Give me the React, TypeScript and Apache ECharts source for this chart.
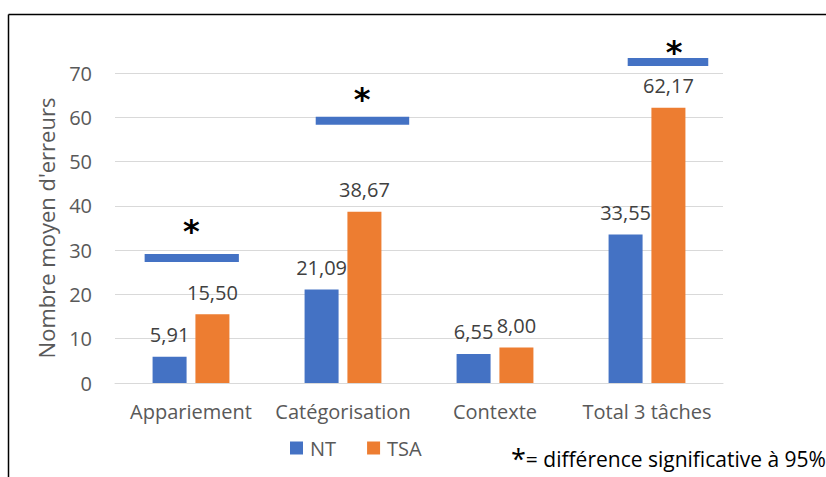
import React, { useEffect, useRef } from "react";
import * as echarts from "echarts";

const categories = ["Appariement", "Catégorisation", "Contexte", "Total 3 tâches"];
const ntValues = [5.91, 21.09, 6.55, 33.55];
const tsaValues = [15.5, 38.67, 8.0, 62.17];
// significance marks (hand-placed in the original): category index, bar level, star level
const sigCats = [0, 1, 3];
const sigLevels = [28.2, 59.2, 72.5];
const sigShift = [0.005, 0.128, 0.138]; // fraction of category band
const sigWidth = [0.62, 0.615, 0.53]; // fraction of category band
const starLevels = [35.3, 65.0, 75.6];
const starShift = [0.003, 0.125, 0.178];
const yTicks = { min: 0, max: 70, interval: 10 };

const FONT = "Open Sans";
const GRAY = "#595959";

const fmt = (v: number) => v.toFixed(2).replace(".", ",");

export default function App() {
  const ref = useRef<HTMLDivElement>(null);
  useEffect(() => {
    if (!ref.current) return;
    const chart = echarts.init(ref.current, null, { renderer: "svg" });
    const sigData = sigCats.map((c, i) => [c, sigLevels[i], sigShift[i], sigWidth[i], starLevels[i], starShift[i]]);
    const labelCfg = {
      show: true,
      position: "top",
      distance: 12,
      color: "#404040",
      fontSize: 20,
      fontFamily: FONT,
      formatter: (p: any) => fmt(p.value),
    };
    chart.setOption({
      animation: false,
      textStyle: { fontFamily: FONT },
      grid: { left: 115, right: 103, top: 73, bottom: 94 },
      legend: {
        top: 433,
        left: 285,
        itemWidth: 13,
        itemHeight: 13,
        itemGap: 31,
        icon: "rect",
        textStyle: { color: GRAY, fontSize: 20, fontFamily: FONT, padding: [0, 0, 0, 2] },
        data: ["NT", "TSA"],
      },
      xAxis: {
        type: "category",
        data: categories,
        axisTick: { show: false },
        axisLine: { lineStyle: { color: "#D9D9D9", width: 1 } },
        axisLabel: { color: GRAY, fontSize: 20, margin: 18, fontFamily: FONT, interval: 0, hideOverlap: false },
      },
      yAxis: {
        type: "value",
        min: yTicks.min,
        max: yTicks.max,
        interval: yTicks.interval,
        name: "Nombre moyen d'erreurs",
        nameLocation: "middle",
        nameGap: 58,
        nameTextStyle: { color: GRAY, fontSize: 22, fontFamily: FONT },
        axisLine: { show: false },
        axisTick: { show: false },
        axisLabel: { color: GRAY, fontSize: 20, margin: 23, fontFamily: FONT },
        splitLine: { lineStyle: { color: "#D9D9D9", width: 1 } },
      },
      series: [
        {
          name: "NT",
          type: "bar",
          data: ntValues,
          barWidth: 34,
          barGap: "26%",
          itemStyle: { color: "#4472C4" },
          label: labelCfg,
        },
        {
          name: "TSA",
          type: "bar",
          data: tsaValues,
          barWidth: 34,
          itemStyle: { color: "#ED7D31" },
          label: labelCfg,
        },
        {
          name: "sig",
          type: "custom",
          data: sigData,
          z: 10,
          renderItem: (params: any, api: any) => {
            const band = api.size([1, 0])[0];
            const bar = api.coord([api.value(0), api.value(1)]);
            const star = api.coord([api.value(0), api.value(4)]);
            const cx = bar[0] + api.value(2) * band;
            const w = api.value(3) * band;
            const sx = star[0] + api.value(5) * band;
            return {
              type: "group",
              children: [
                {
                  type: "rect",
                  shape: { x: cx - w / 2, y: bar[1] - 4, width: w, height: 8 },
                  style: { fill: "#4472C4" },
                },
                {
                  type: "text",
                  style: {
                    text: "*",
                    x: sx,
                    y: star[1] + 20,
                    align: "center",
                    verticalAlign: "bottom",
                    fill: "#000",
                    fontSize: 32,
                    fontWeight: "bold",
                    fontFamily: "DejaVu Sans",
                  },
                },
              ],
            };
          },
        },
      ],
      graphic: [
        {
          type: "line",
          shape: { x1: 8.5, y1: 14.5, x2: 826, y2: 14.5 },
          style: { stroke: "#000", lineWidth: 1.5 },
        },
        {
          type: "line",
          shape: { x1: 8.5, y1: 14.5, x2: 8.5, y2: 477 },
          style: { stroke: "#000", lineWidth: 1.5 },
        },
        {
          type: "text",
          left: 511,
          top: 445,
          style: {
            text: "{a|*}{b|= différence significative à 95%}",
            fill: "#000",
            fontFamily: FONT,
            rich: {
              a: { fontSize: 27, fill: "#000", fontFamily: FONT, lineHeight: 26 },
              b: { fontSize: 21, fill: "#000", fontFamily: FONT, lineHeight: 26 },
            },
          },
        },
      ],
    });
    return () => chart.dispose();
  }, []);
  return <div ref={ref} style={{ width: 826, height: 477, position: "absolute", left: 0, top: 0 }} />;
}
